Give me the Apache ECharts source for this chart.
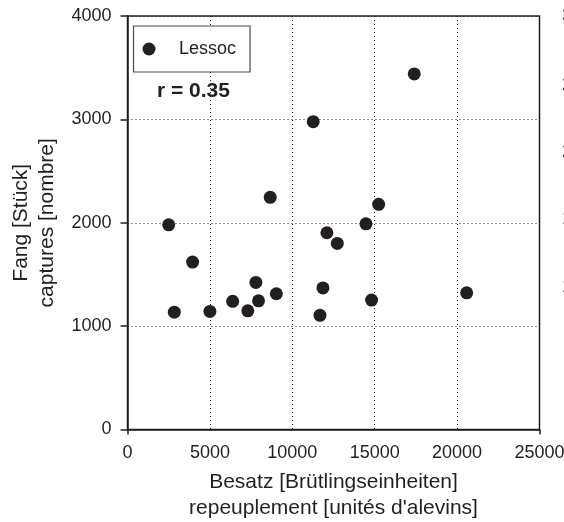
<!DOCTYPE html>
<html>
<head>
<meta charset="utf-8">
<script src="https://cdn.jsdelivr.net/npm/echarts@6/dist/echarts.min.js"></script>
<style>
html,body{margin:0;padding:0;background:#fff;}
#chart{width:564px;height:522px;}
</style>
</head>
<body>
<div id="chart"></div>
<script>
// Data
const seriesName = 'Lessoc';
const stocking = [2500, 2840, 3950, 5000, 6380, 7300, 7790, 7950, 8660, 9030, 11270, 11680, 11860, 12100, 12730, 14470, 14810, 15240, 17400, 20580];
const catches  = [1980, 1135, 1620, 1142, 1240, 1148, 1423, 1245, 2246, 1313, 2978, 1104, 1370, 1903, 1800, 1990, 1252, 2178, 3440, 1322];
const xTicks = [0, 5000, 10000, 15000, 20000, 25000];
const yTicks = [0, 1000, 2000, 3000, 4000];
const neighbourLabels = ['3000', '2500', '2000', '1500', '1000'];
const corrText = 'r = 0.35';

const FONT = 'Liberation Sans, Arial, Helvetica, sans-serif';
const INK = '#231f20';

const points = stocking.map((x, i) => [x, catches[i]]);

const chart = echarts.init(document.getElementById('chart'), null, {renderer: 'canvas'});

const neighbourY = [16, 85, 152, 219, 287];
const plain = v => String(v);

chart.setOption({
  animation: false,
  backgroundColor: '#fff',
  textStyle: {fontFamily: FONT, color: INK},
  grid: {
    left: 127.5, right: 24.5, top: 16, bottom: 92.5,
    containLabel: false, outerBoundsMode: 'none',
    show: true, borderColor: INK, borderWidth: 1.5, backgroundColor: 'transparent'
  },
  title: {
    text: corrText, left: 157, top: 81, padding: 0,
    textStyle: {fontFamily: FONT, fontSize: 21, fontWeight: 'bold', color: INK}
  },
  legend: {
    data: [{name: seriesName, icon: 'circle'}],
    left: 133.5, top: 26,
    orient: 'horizontal',
    padding: [14, 14, 14, 9],
    itemWidth: 50, itemHeight: 13,
    borderColor: '#4a4a4a', borderWidth: 1.2,
    backgroundColor: '#fff',
    textStyle: {fontFamily: FONT, fontSize: 18, color: INK},
    selectedMode: false
  },
  xAxis: [{
    type: 'value', min: xTicks[0], max: xTicks[xTicks.length - 1], interval: xTicks[1] - xTicks[0],
    position: 'bottom',
    name: 'Besatz [Brütlingseinheiten]\nrepeuplement [unités d\'alevins]',
    nameLocation: 'middle', nameGap: 39,
    nameTextStyle: {fontFamily: FONT, fontSize: 21, lineHeight: 26.5, color: INK},
    axisLine: {show: true, lineStyle: {color: INK, width: 1.5}},
    axisTick: {show: false},
    axisLabel: {fontFamily: FONT, fontSize: 18, color: INK, margin: 15, formatter: plain, hideOverlap: false},
    splitLine: {show: true, lineStyle: {color: INK, width: 1, type: [1, 3]}}
  }, {
    type: 'value', min: xTicks[0], max: xTicks[xTicks.length - 1], interval: xTicks[xTicks.length - 1],
    position: 'bottom',
    axisLine: {show: false},
    axisTick: {show: true, length: 5, lineStyle: {color: INK, width: 1.5}},
    axisLabel: {show: false},
    splitLine: {show: false}
  }],
  yAxis: {
    type: 'value', min: yTicks[0], max: yTicks[yTicks.length - 1], interval: yTicks[1] - yTicks[0],
    name: 'Fang [Stück]\ncaptures [nombre]',
    nameLocation: 'middle', nameGap: 65, nameRotate: 90,
    nameTextStyle: {fontFamily: FONT, fontSize: 21, lineHeight: 26.5, color: INK},
    axisLine: {show: true, lineStyle: {color: INK, width: 1.5}},
    axisTick: {show: true, length: 7, lineStyle: {color: INK, width: 1.5}},
    axisLabel: {fontFamily: FONT, fontSize: 18, color: INK, margin: 16, formatter: plain},
    splitLine: {show: true, lineStyle: {color: INK, width: 1, type: [1, 3]}}
  },
  series: [{
    name: seriesName,
    type: 'scatter',
    xAxisIndex: 0,
    data: points,
    symbol: 'circle',
    symbolSize: 13,
    itemStyle: {color: INK, opacity: 1},
    z: 5
  }],
  graphic: neighbourLabels.map((t, i) => ({
    type: 'text', left: 562, top: neighbourY[i] - 9, silent: true,
    style: {text: t, fontFamily: FONT, fontSize: 18, fill: INK}
  }))
});
</script>
</body>
</html>
